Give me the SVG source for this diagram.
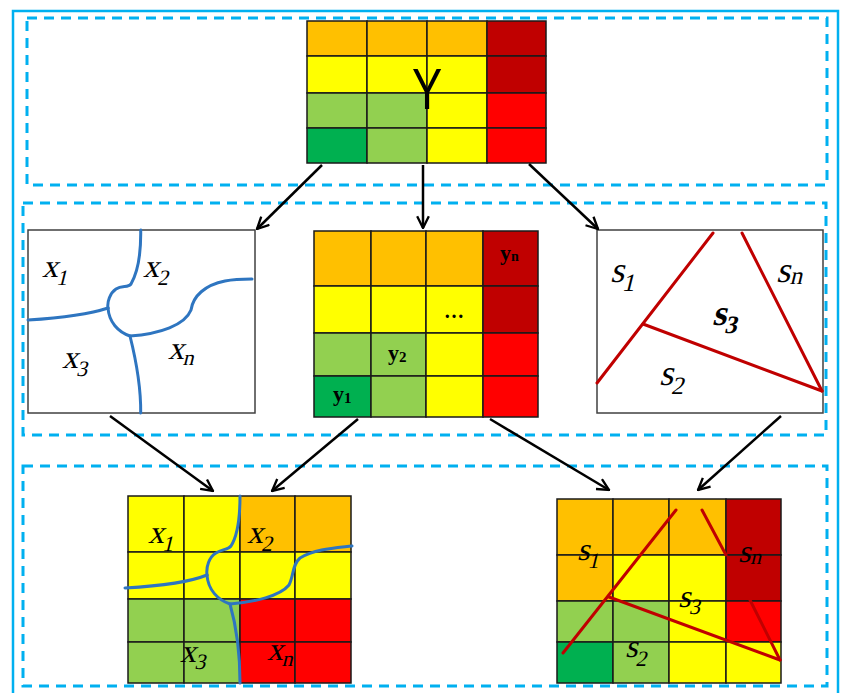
<svg xmlns="http://www.w3.org/2000/svg" width="842" height="693" viewBox="0 0 842 693">
<defs>
<style>
.frame{fill:none;stroke:#00B0F0;stroke-width:2.5}
.dash{fill:none;stroke:#00B0F0;stroke-width:3;stroke-dasharray:10 7}
.c{stroke:#1a1a1a;stroke-width:1.5}
.o{fill:#FFC000}.y{fill:#FFFF00}.lg{fill:#92D050}.g{fill:#00B050}.dr{fill:#C00000}.r{fill:#FF0000}
.box{fill:#fff;stroke:#404040;stroke-width:1.5}
.blue{fill:none;stroke:#2E75C0;stroke-width:3;stroke-linecap:round}
.red{fill:none;stroke:#C00000;stroke-width:3;stroke-linecap:round}
.arr{fill:none;stroke:#000;stroke-width:2.5;marker-end:url(#ah)}
.it{font-family:"Liberation Serif",serif;fill:#000}
.bd{font-family:"Liberation Serif",serif;font-weight:bold;fill:#000}
</style>
<marker id="ah" viewBox="0 0 12 12" refX="11" refY="6" markerWidth="14" markerHeight="14" markerUnits="userSpaceOnUse" orient="auto">
<path d="M1,1 L11,6 L1,11" fill="none" stroke="#000" stroke-width="2"/>
</marker>
</defs>
<rect width="842" height="693" fill="#fff"/>
<rect class="frame" x="13" y="11" width="825" height="695"/>
<rect class="dash" x="27" y="18" width="800" height="167"/>
<rect class="dash" x="23" y="203" width="803" height="232"/>
<rect class="dash" x="23" y="466" width="804" height="220"/>

<g id="top-grid">
<rect class="c o" x="307" y="21" width="60" height="35"/><rect class="c o" x="367" y="21" width="60" height="35"/><rect class="c o" x="427" y="21" width="60" height="35"/><rect class="c dr" x="487" y="21" width="59" height="35"/>
<rect class="c y" x="307" y="56" width="60" height="37"/><rect class="c y" x="367" y="56" width="60" height="37"/><rect class="c y" x="427" y="56" width="60" height="37"/><rect class="c dr" x="487" y="56" width="59" height="37"/>
<rect class="c lg" x="307" y="93" width="60" height="35"/><rect class="c lg" x="367" y="93" width="60" height="35"/><rect class="c y" x="427" y="93" width="60" height="35"/><rect class="c r" x="487" y="93" width="59" height="35"/>
<rect class="c g" x="307" y="128" width="60" height="35"/><rect class="c lg" x="367" y="128" width="60" height="35"/><rect class="c y" x="427" y="128" width="60" height="35"/><rect class="c r" x="487" y="128" width="59" height="35"/>
<text transform="translate(427,109) scale(0.78,1)" text-anchor="middle" font-family="Liberation Sans, sans-serif" font-size="58" fill="#000">Y</text>
</g>

<g id="left-box">
<rect class="box" x="28" y="230" width="227" height="183"/>
<path class="blue" d="M140.7,230 C141,250 139,270 131,284 C128,288 122,285 116,289 C110,293 107,302 108,308"/>
<path class="blue" d="M28,320 C60,318 90,314 108,308"/>
<path class="blue" d="M108,308 C109,322 118,332 130,336 C136,360 141,385 140.7,413"/>
<path class="blue" d="M130,336 C160,334 185,325 191,310 C193,296 205,285 225,281 C235,279 245,279 252,279"/>
<g transform="translate(42,277) skewX(-14)"><text class="it" font-size="32">x<tspan font-size="22" dy="8">1</tspan></text></g>
<g transform="translate(143,277) skewX(-14)"><text class="it" font-size="32">x<tspan font-size="22" dy="8">2</tspan></text></g>
<g transform="translate(62,368) skewX(-14)"><text class="it" font-size="32">x<tspan font-size="22" dy="8">3</tspan></text></g>
<g transform="translate(168,359) skewX(-14)"><text class="it" font-size="32">x<tspan font-size="22" dy="6">n</tspan></text></g>
</g>

<g id="mid-grid">
<rect class="c o" x="314" y="231" width="57" height="55"/><rect class="c o" x="371" y="231" width="55" height="55"/><rect class="c o" x="426" y="231" width="57" height="55"/><rect class="c dr" x="483" y="231" width="55" height="55"/>
<rect class="c y" x="314" y="286" width="57" height="47"/><rect class="c y" x="371" y="286" width="55" height="47"/><rect class="c y" x="426" y="286" width="57" height="47"/><rect class="c dr" x="483" y="286" width="55" height="47"/>
<rect class="c lg" x="314" y="333" width="57" height="43"/><rect class="c lg" x="371" y="333" width="55" height="43"/><rect class="c y" x="426" y="333" width="57" height="43"/><rect class="c r" x="483" y="333" width="55" height="43"/>
<rect class="c g" x="314" y="376" width="57" height="41"/><rect class="c lg" x="371" y="376" width="55" height="41"/><rect class="c y" x="426" y="376" width="57" height="41"/><rect class="c r" x="483" y="376" width="55" height="41"/>
<text class="bd" x="500" y="260" font-size="22">y<tspan font-size="14" dy="1">n</tspan></text>
<text class="bd" x="454" y="318" font-size="20" text-anchor="middle">…</text>
<text class="bd" x="388" y="360" font-size="22">y<tspan font-size="15" dy="2">2</tspan></text>
<text class="bd" x="333" y="401" font-size="22">y<tspan font-size="15" dy="2">1</tspan></text>
</g>

<g id="right-box">
<rect class="box" x="597" y="230" width="226" height="183"/>
<path class="red" d="M713,233 L597,383"/>
<path class="red" d="M643,324 L822,391"/>
<path class="red" d="M742,233 L822,391"/>
<g transform="translate(610,282) skewX(-14)"><text class="it" font-size="36">s<tspan font-size="25" dy="9">1</tspan></text></g>
<g transform="translate(776,282) skewX(-14)"><text class="it" font-size="36">s<tspan font-size="25" dy="2">n</tspan></text></g>
<g transform="translate(712,325) skewX(-14)"><text class="it" font-size="36" font-weight="bold">s<tspan font-size="25" dy="8">3</tspan></text></g>
<g transform="translate(659,385) skewX(-14)"><text class="it" font-size="36">s<tspan font-size="25" dy="9">2</tspan></text></g>
</g>

<g id="bottom-left-grid">
<rect class="c y" x="128" y="496" width="56" height="56"/><rect class="c y" x="184" y="496" width="56" height="56"/><rect class="c o" x="240" y="496" width="55" height="56"/><rect class="c o" x="295" y="496" width="56" height="56"/>
<rect class="c y" x="128" y="552" width="56" height="47"/><rect class="c y" x="184" y="552" width="56" height="47"/><rect class="c y" x="240" y="552" width="55" height="47"/><rect class="c y" x="295" y="552" width="56" height="47"/>
<rect class="c lg" x="128" y="599" width="56" height="43"/><rect class="c lg" x="184" y="599" width="56" height="43"/><rect class="c r" x="240" y="599" width="55" height="43"/><rect class="c r" x="295" y="599" width="56" height="43"/>
<rect class="c lg" x="128" y="642" width="56" height="41"/><rect class="c lg" x="184" y="642" width="56" height="41"/><rect class="c r" x="240" y="642" width="55" height="41"/><rect class="c r" x="295" y="642" width="56" height="41"/>
<path class="blue" d="M240,496 C240,515 238,535 231,546 C228,550 222,549 216,553 C209,557 206,567 207,575"/>
<path class="blue" d="M125,588 C160,586 190,582 207,575"/>
<path class="blue" d="M207,575 C208,590 218,600 230,604 C236,625 240,655 240,683"/>
<path class="blue" d="M230,604 C255,602 280,596 289,585 C294,575 292,565 300,558 C315,549 335,548 352,546"/>
<g transform="translate(148,543) skewX(-14)"><text class="it" font-size="32">x<tspan font-size="22" dy="8">1</tspan></text></g>
<g transform="translate(247,543) skewX(-14)"><text class="it" font-size="32">x<tspan font-size="22" dy="8">2</tspan></text></g>
<g transform="translate(180,662) skewX(-14)"><text class="it" font-size="32">x<tspan font-size="22" dy="7">3</tspan></text></g>
<g transform="translate(267,660) skewX(-14)"><text class="it" font-size="32">x<tspan font-size="22" dy="6">n</tspan></text></g>
</g>

<g id="bottom-right-grid">
<rect class="c o" x="557" y="499" width="56" height="56"/><rect class="c o" x="613" y="499" width="56" height="56"/><rect class="c o" x="669" y="499" width="57" height="56"/><rect class="c dr" x="726" y="499" width="55" height="56"/>
<rect class="c o" x="557" y="555" width="56" height="46"/><rect class="c y" x="613" y="555" width="56" height="46"/><rect class="c y" x="669" y="555" width="57" height="46"/><rect class="c dr" x="726" y="555" width="55" height="46"/>
<rect class="c lg" x="557" y="601" width="56" height="41"/><rect class="c lg" x="613" y="601" width="56" height="41"/><rect class="c y" x="669" y="601" width="57" height="41"/><rect class="c r" x="726" y="601" width="55" height="41"/>
<rect class="c g" x="557" y="642" width="56" height="41"/><rect class="c lg" x="613" y="642" width="56" height="41"/><rect class="c y" x="669" y="642" width="57" height="41"/><rect class="c y" x="726" y="642" width="55" height="41"/>
<path class="red" d="M676,510 L563,653"/>
<path class="red" d="M609,597 L780,660"/>
<path class="red" d="M702,510 L726,555"/>
<path class="red" d="M750,600 L780,660" stroke-width="2"/>
<g transform="translate(577,560) skewX(-14)"><text class="it" font-size="32">s<tspan font-size="22" dy="8">1</tspan></text></g>
<g transform="translate(738,562) skewX(-14)"><text class="it" font-size="32">s<tspan font-size="22" dy="2">n</tspan></text></g>
<g transform="translate(678,607) skewX(-14)"><text class="it" font-size="32">s<tspan font-size="22" dy="7">3</tspan></text></g>
<g transform="translate(625,657) skewX(-14)"><text class="it" font-size="32">s<tspan font-size="22" dy="9">2</tspan></text></g>
</g>

<g id="connectors">
<path class="arr" d="M322,165 L257,229"/>
<path class="arr" d="M423,165 L423,228"/>
<path class="arr" d="M529,164 L598,229"/>
<path class="arr" d="M110,416 L213,491"/>
<path class="arr" d="M358,419 L272,491"/>
<path class="arr" d="M490,419 L609,490"/>
<path class="arr" d="M781,416 L698,490"/>
</g>
</svg>
